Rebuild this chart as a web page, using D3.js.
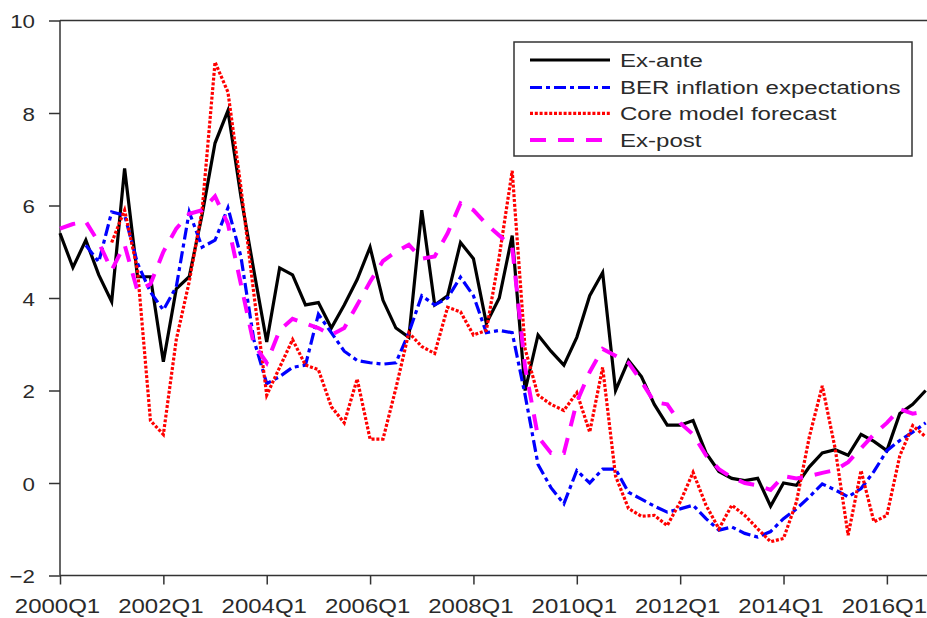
<!DOCTYPE html>
<html>
<head>
<meta charset="utf-8">
<script src="https://cdn.jsdelivr.net/npm/d3@7/dist/d3.min.js"></script>
<style>
  body { margin: 0; background: #fff; }
  svg { display: block; font-family: "Liberation Sans", Arial, Helvetica, sans-serif; }
</style>
</head>
<body>
<svg id="chart" width="927" height="618"></svg>
<script>
// Quarterly periods 2000Q1 .. 2016Q4
const years = d3.range(2000, 2017);
const quarters = years.flatMap(yr => [1, 2, 3, 4].map(q => `${yr}Q${q}`));

const xTickLabels = ["2000Q1", "2002Q1", "2004Q1", "2006Q1", "2008Q1",
                     "2010Q1", "2012Q1", "2014Q1", "2016Q1"];
const yTicks = [-2, 0, 2, 4, 6, 8, 10];

const exAnte = [
  5.4, 4.66, 5.25, 4.5, 3.92, 6.8, 4.46, 4.46, 2.62, 4.2,
  4.46, 5.8, 7.35, 8.05, 6.2, 4.6, 3.05, 4.65, 4.5, 3.85,
  3.9, 3.35, 3.85, 4.4, 5.1, 3.95, 3.35, 3.15, 5.9, 3.85,
  4.05, 5.2, 4.85, 3.45, 4.0, 5.35, 2.0, 3.2, 2.85, 2.55,
  3.15, 4.05, 4.55, 2.0, 2.65, 2.3, 1.7, 1.25, 1.25, 1.35,
  0.65, 0.25, 0.1, 0.05, 0.1, -0.5, 0.0, -0.05, 0.35, 0.65,
  0.72, 0.6, 1.05, 0.9, 0.7, 1.5, 1.7, 2.0
];

const berExpectations = [
  null, null, 5.14, 4.78, 5.86, 5.79, 4.75, 4.13, 3.74, 4.24,
  5.86, 5.1, 5.25, 5.95, 4.9, 3.1, 2.15, 2.3, 2.5, 2.55,
  3.65, 3.25, 2.85, 2.65, 2.6, 2.57, 2.6, 3.25, 4.05, 3.85,
  4.0, 4.45, 4.05, 3.25, 3.3, 3.25, 1.9, 0.4, -0.1, -0.45,
  0.27, 0.0, 0.3, 0.3, -0.2, -0.35, -0.5, -0.63, -0.56, -0.48,
  -0.77, -1.02, -0.95, -1.09, -1.17, -1.05, -0.77, -0.56, -0.3, -0.02,
  -0.15, -0.3, -0.12, 0.25, 0.7, 0.92, 1.1, 1.3
];

const coreForecast = [
  null, null, null, null, 5.2, 5.9, 4.6, 1.35, 1.05, 3.1,
  4.35, 5.9, 9.1, 8.45, 6.4, 4.1, 1.9, 2.5, 3.1, 2.55,
  2.45, 1.65, 1.3, 2.25, 0.95, 0.95, 2.05, 3.25, 2.95, 2.8,
  3.8, 3.7, 3.2, 3.3, 4.9, 6.75, 2.9, 1.9, 1.7, 1.57,
  1.95, 1.1, 2.5, 0.15, -0.55, -0.72, -0.7, -0.92, -0.41, 0.23,
  -0.48, -0.99, -0.48, -0.7, -0.99, -1.27, -1.2, -0.41, 1.0, 2.1,
  0.74, -1.13, 0.27, -0.84, -0.7, 0.59, 1.24, 1.0
];

const exPost = [
  5.5, 5.6, 5.65, 5.2, 4.6, 5.15, 4.15, 4.3, 5.0, 5.5,
  5.82, 5.9, 6.2, 5.6, 4.3, 3.0, 2.6, 3.3, 3.55, 3.45,
  3.35, 3.2, 3.35, 3.85, 4.35, 4.8, 5.0, 5.15, 4.85, 4.9,
  5.4, 6.05, 5.9, 5.6, 5.35, 5.1, 2.5, 1.0, 0.65, 0.65,
  1.75, 2.4, 2.9, 2.75, 2.6, 2.2, 1.75, 1.7, 1.3, 1.05,
  0.6, 0.3, 0.12, 0.0, -0.05, -0.15, 0.15, 0.1, 0.15, 0.22,
  0.28, 0.45, 0.75, 1.05, 1.3, 1.6, 1.5, 1.55
];

const seriesNames = ["Ex-ante", "BER inflation expectations", "Core model forecast", "Ex-post"];
const seriesColors = ["#000000", "#0000ff", "#ff0000", "#ff00ff"];
const seriesDash = [null, "12,4,4,4", "3,1.8", "16,12"];
const seriesWidth = [3.2, 3.2, 3.2, 4];
const seriesValues = [exAnte, berExpectations, coreForecast, exPost];

const svg = d3.select("#chart");
const textColor = "#2a2a2a";
const axisColor = "#333";

const plotLeft = 60, step = 12.92;
const x = d3.scalePoint()
  .domain(quarters)
  .range([plotLeft, plotLeft + step * (quarters.length - 1)]);
const plotRight = 960;
const y = d3.scaleLinear().domain([-2, 10]).range([575.5, 20.5]);

// plot frame: top and bottom edges run off the right side
svg.append("line")
  .attr("x1", plotLeft).attr("x2", plotRight)
  .attr("y1", y(10)).attr("y2", y(10))
  .attr("stroke", axisColor).attr("stroke-width", 1.5);
svg.append("line")
  .attr("x1", plotLeft).attr("x2", plotRight)
  .attr("y1", y(-2)).attr("y2", y(-2))
  .attr("stroke", axisColor).attr("stroke-width", 1.5);
svg.append("line")
  .attr("x1", plotLeft).attr("x2", plotLeft)
  .attr("y1", y(10)).attr("y2", y(-2))
  .attr("stroke", axisColor).attr("stroke-width", 1.5);

const axisFont = 20, axisStretch = 1.2;

// x axis
const gx = svg.append("g")
  .attr("transform", `translate(0,${y(-2)})`)
  .call(d3.axisBottom(x).tickValues(xTickLabels).tickSize(9).tickSizeOuter(0));
gx.select(".domain").remove();
gx.selectAll(".tick line").attr("stroke", axisColor).attr("stroke-width", 1.5);
gx.selectAll(".tick text")
  .attr("fill", textColor)
  .attr("font-size", axisFont)
  .attr("font-family", null)
  .attr("y", 0).attr("dy", null)
  .attr("transform", `translate(-3,37.5) scale(${axisStretch},1)`);

// y axis
const gy = svg.append("g")
  .attr("transform", `translate(${plotLeft},0)`)
  .call(d3.axisLeft(y).tickValues(yTicks).tickSize(11).tickSizeOuter(0));
gy.select(".domain").remove();
gy.selectAll(".tick line").attr("stroke", axisColor).attr("stroke-width", 1.5);
gy.selectAll(".tick text")
  .attr("fill", textColor)
  .attr("font-size", 18.6)
  .attr("font-family", null)
  .attr("x", 0).attr("dy", "0.4em")
  .attr("transform", `translate(-25,0) scale(1.2,1)`);

// series lines
const line = d3.line()
  .defined(d => d.v != null)
  .x(d => x(d.q))
  .y(d => y(d.v));

seriesValues.forEach((vals, i) => {
  const pts = quarters.map((q, k) => ({ q, v: vals[k] }));
  svg.append("path")
    .datum(pts)
    .attr("d", line)
    .attr("fill", "none")
    .attr("stroke", seriesColors[i])
    .attr("stroke-width", seriesWidth[i])
    .attr("stroke-linejoin", "miter")
    .attr("stroke-dasharray", seriesDash[i]);
});

// legend
const legend = svg.append("g");
legend.append("rect")
  .attr("x", 514).attr("y", 42)
  .attr("width", 398).attr("height", 114)
  .attr("fill", "#fff")
  .attr("stroke", axisColor).attr("stroke-width", 1.5);

const legendRows = [60, 87.5, 113.3, 140];
const legendFont = 18.5, legendStretch = 1.3;
seriesNames.forEach((name, i) => {
  legend.append("line")
    .attr("x1", 530).attr("x2", 610)
    .attr("y1", legendRows[i]).attr("y2", legendRows[i])
    .attr("stroke", seriesColors[i])
    .attr("stroke-width", seriesWidth[i])
    .attr("stroke-dasharray", seriesDash[i]);
  legend.append("text")
    .attr("transform", `translate(620,${legendRows[i]}) scale(${legendStretch},1)`)
    .attr("dy", "0.36em")
    .attr("font-size", legendFont)
    .attr("fill", textColor)
    .text(name);
});
</script>
</body>
</html>
